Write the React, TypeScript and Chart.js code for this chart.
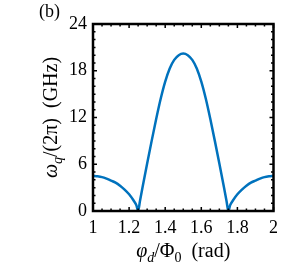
import React, { useEffect, useRef } from "react";
import { Chart, registerables } from "chart.js";

Chart.register(...registerables);

// Flux bias (units of Φ0) and qubit frequency (GHz)
const phi = [
  1.0, 1.025, 1.05, 1.075, 1.1, 1.125, 1.15, 1.175, 1.2, 1.225, 1.24, 1.25,
  1.26, 1.275, 1.3, 1.325, 1.35, 1.375, 1.4, 1.425, 1.45, 1.475, 1.5,
  1.525, 1.55, 1.575, 1.6, 1.625, 1.65, 1.675, 1.7, 1.725, 1.74, 1.75,
  1.76, 1.775, 1.8, 1.825, 1.85, 1.875, 1.9, 1.925, 1.95, 1.975, 2.0,
];
const omega = [
  4.5, 4.45, 4.35, 4.15, 3.9, 3.65, 3.25, 2.75, 2.15, 1.35, 0.75, 0.0,
  1.25, 3.1, 6.1, 9.0, 11.8, 14.4, 16.6, 18.3, 19.4, 20.0, 20.2,
  20.0, 19.4, 18.3, 16.6, 14.4, 11.8, 9.0, 6.1, 3.1, 1.25, 0.0,
  0.75, 1.35, 2.15, 2.75, 3.25, 3.65, 3.9, 4.15, 4.35, 4.45, 4.5,
];
const xTickValues = [1, 1.2, 1.4, 1.6, 1.8, 2];
const yTickValues = [0, 6, 12, 18, 24];
const panelLabel = "(b)";

const SERIF = "'Liberation Serif', 'DejaVu Serif', serif";
const LINE_COLOR = "#0072BD";

type Part = { t: string; it?: boolean; sub?: boolean };

const yTitle: Part[] = [
  { t: "ω", it: true },
  { t: "q", it: true, sub: true },
  { t: "/(2π)  (GHz)" },
];
const xTitle: Part[] = [
  { t: "φ", it: true },
  { t: "d", it: true, sub: true },
  { t: "/Φ" },
  { t: "0", sub: true },
  { t: "  (rad)" },
];

function fontFor(p: Part, size: number) {
  const s = p.sub ? Math.round(size * 0.7) : size;
  return `${p.it ? "italic " : ""}${s}px ${SERIF}`;
}

function drawRich(
  ctx: CanvasRenderingContext2D,
  parts: Part[],
  x: number,
  y: number,
  rot: number,
  size: number
) {
  ctx.save();
  ctx.setTransform(1, 0, 0, 1, 0, 0);
  ctx.translate(x, y);
  ctx.rotate(rot);
  let total = 0;
  const widths = parts.map((p) => {
    ctx.font = fontFor(p, size);
    const w = ctx.measureText(p.t).width;
    total += w;
    return w;
  });
  let cx = -total / 2;
  ctx.fillStyle = "#000";
  ctx.textBaseline = "middle";
  ctx.textAlign = "left";
  parts.forEach((p, i) => {
    ctx.font = fontFor(p, size);
    ctx.fillText(p.t, cx, p.sub ? size * 0.3 : 0);
    cx += widths[i];
  });
  ctx.restore();
}

const framePlugin = {
  id: "frame",
  afterDraw(chart: any) {
    const ctx: CanvasRenderingContext2D = chart.ctx;
    const { left, right, top, bottom } = chart.chartArea;
    const xs = chart.scales.x;
    const ys = chart.scales.y;
    ctx.save();
    ctx.strokeStyle = "#000";
    ctx.lineWidth = 1.5;
    const xMin = xs.min, xMax = xs.max;
    for (let i = 0; i <= 20; i++) {
      const v = xMin + ((xMax - xMin) * i) / 20;
      const px = xs.getPixelForValue(v);
      const major = i % 4 === 0;
      const len = major ? 4 : 2.5;
      ctx.beginPath();
      ctx.moveTo(px, bottom);
      ctx.lineTo(px, bottom - len);
      ctx.moveTo(px, top);
      ctx.lineTo(px, top + len);
      ctx.stroke();
    }
    const yMin = ys.min, yMax = ys.max;
    for (let v = yMin; v <= yMax; v += 1) {
      const py = ys.getPixelForValue(v);
      const major = v % 6 === 0;
      const len = major ? 4 : 2.5;
      ctx.beginPath();
      ctx.moveTo(left, py);
      ctx.lineTo(left + len, py);
      ctx.moveTo(right, py);
      ctx.lineTo(right - len, py);
      ctx.stroke();
    }
    ctx.lineWidth = 2.5;
    ctx.strokeRect(left, top, right - left, bottom - top);
    ctx.restore();

    drawRich(ctx, yTitle, 52, (top + bottom) / 2, -Math.PI / 2, 20);
    drawRich(ctx, xTitle, (left + right) / 2, 252, 0, 20);
    ctx.save();
    ctx.font = `18px ${SERIF}`;
    ctx.fillStyle = "#000";
    ctx.textBaseline = "middle";
    ctx.textAlign = "left";
    ctx.fillText(panelLabel, 39, 12);
    ctx.restore();
  },
};

export default function App() {
  const ref = useRef<HTMLCanvasElement>(null);
  useEffect(() => {
    document.body.style.margin = "0";
    const chart = new Chart(ref.current!, {
      type: "scatter",
      data: {
        datasets: [
          {
            data: phi.map((p, i) => ({ x: p, y: omega[i] })),
            showLine: true,
            borderColor: LINE_COLOR,
            borderWidth: 2.5,
            pointRadius: 0,
            cubicInterpolationMode: "monotone",
            fill: false,
          },
        ],
      },
      options: {
        animation: false,
        responsive: false,
        devicePixelRatio: 1,
        layout: { padding: { left: 0, right: 9, top: 24, bottom: 0 } },
        plugins: { legend: { display: false }, tooltip: { enabled: false } },
        scales: {
          x: {
            type: "linear",
            min: xTickValues[0],
            max: xTickValues[xTickValues.length - 1],
            afterBuildTicks: (s: any) => {
              s.ticks = xTickValues.map((v) => ({ value: v }));
            },
            afterFit: (s: any) => {
              s.height = 57;
            },
            grid: { display: false, drawTicks: false },
            border: { display: false },
            ticks: {
              color: "#000",
              font: { family: SERIF, size: 18 },
              padding: 6,
              maxRotation: 0,
              callback: (v: any) => String(Number(Number(v).toFixed(1))),
            },
          },
          y: {
            type: "linear",
            min: yTickValues[0],
            max: yTickValues[yTickValues.length - 1],
            afterBuildTicks: (s: any) => {
              s.ticks = yTickValues.map((v) => ({ value: v }));
            },
            afterFit: (s: any) => {
              s.width = 93;
            },
            grid: { display: false, drawTicks: false },
            border: { display: false },
            ticks: {
              color: "#000",
              font: { family: SERIF, size: 18 },
              padding: 6,
            },
          },
        },
      },
      plugins: [framePlugin],
    });
    return () => chart.destroy();
  }, []);
  return (
    <div style={{ position: "absolute", left: 0, top: 0, width: 284, height: 268 }}>
      <canvas ref={ref} width={284} height={268} style={{ width: 284, height: 268 }} />
    </div>
  );
}
